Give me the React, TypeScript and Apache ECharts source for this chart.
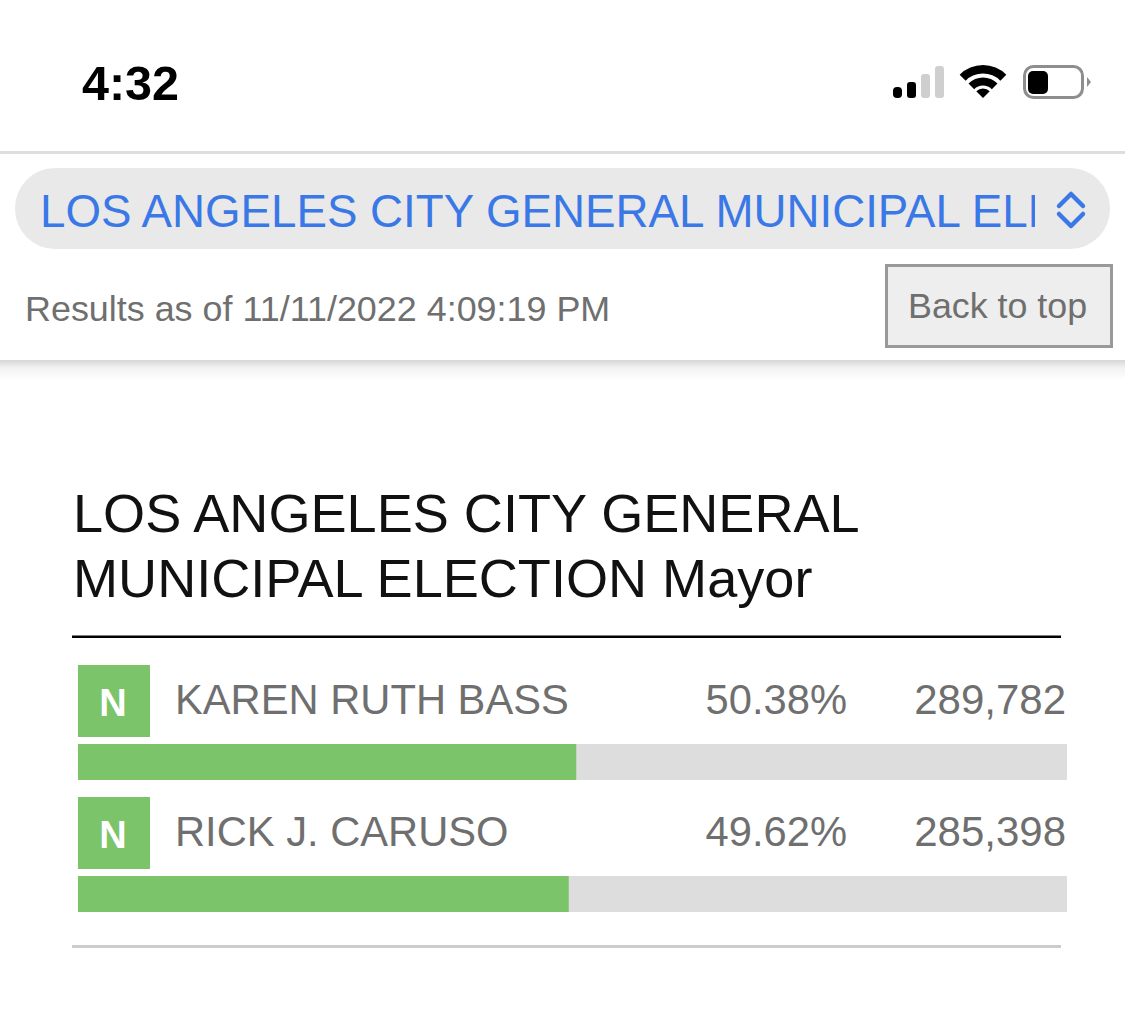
import React, { useEffect, useRef } from "react";
import * as echarts from "echarts";

const candidates = ["KAREN RUTH BASS", "RICK J. CARUSO"];
const shares = [50.38, 49.62];
const shareLabels = ["50.38%", "49.62%"];
const votes = ["289,782", "285,398"];
const partyTags = ["N", "N"];
const titleLines = ["LOS ANGELES CITY GENERAL", "MUNICIPAL ELECTION Mayor"];
const selectText = "LOS ANGELES CITY GENERAL MUNICIPAL ELE";
const resultsText = "Results as of 11/11/2022 4:09:19 PM";
const backText = "Back to top";
const clockText = "4:32";

const FONT = '"Liberation Sans", Arial, sans-serif';
const GREEN = "#7bc469";
const GREY = "#6f6f6f";
const BLUE = "#3b78e7";
const ROW_Y = [0, 132];

function txt(text: string, x: number, y: number, size: number, fill: string, align = "left", weight: any = "normal", family = FONT) {
  return {
    type: "text",
    x,
    y,
    silent: true,
    style: { text, fill, fontSize: size, fontFamily: family, fontWeight: weight, align, verticalAlign: "middle" },
  };
}
function box(x: number, y: number, w: number, h: number, fill: string, r: any = 0, extra: any = {}) {
  return { type: "rect", silent: true, shape: { x, y, width: w, height: h, r }, style: { fill, ...extra } };
}
function wifi(r: number, r0: number) {
  return {
    type: "sector",
    silent: true,
    shape: { cx: 983, cy: 98, r, r0, startAngle: (-3 * Math.PI) / 4, endAngle: -Math.PI / 4, clockwise: true },
    style: { fill: "#000" },
  };
}
function chevron(points: number[][]) {
  return {
    type: "polyline",
    silent: true,
    shape: { points },
    style: { stroke: BLUE, lineWidth: 4.5, fill: "none", lineCap: "round", lineJoin: "round" },
  };
}

const statusBar: any[] = [
  txt(clockText, 82, 83, 48.5, "#000", "left", "bold"),
  box(893, 87, 9, 11, "#000", 4),
  box(907, 82, 9, 16, "#000", 3),
  box(921, 74, 9, 24, "#cfcfcf", 3),
  box(935, 66, 9, 32, "#cfcfcf", 3),
  wifi(33, 24.5),
  wifi(20.5, 12.5),
  wifi(9.5, 0),
  {
    type: "rect",
    silent: true,
    shape: { x: 1024.5, y: 66.5, width: 58, height: 31, r: 9 },
    style: { fill: "#fff", stroke: "#8e8e8e", lineWidth: 3 },
  },
  box(1028, 71, 20, 23, "#000", 5),
  { type: "polygon", silent: true, shape: { points: [[1087, 77], [1091, 82], [1087, 87]] }, style: { fill: "#8e8e8e" } },
];

const header: any[] = [
  box(0, 151, 1125, 3, "#dedede"),
  box(15, 168, 1095, 81, "#e9e9e9", 40),
  txt(selectText, 40, 211, 45.7, BLUE),
  box(1035, 188, 57, 46, "#e9e9e9"),
  chevron([[1059, 206], [1071, 194], [1083, 206]]),
  chevron([[1059, 214], [1071, 226], [1083, 214]]),
  txt(resultsText, 25, 309, 35.9, GREY),
  {
    type: "rect",
    silent: true,
    shape: { x: 886.5, y: 265.5, width: 225, height: 81 },
    style: { fill: "#eeeeee", stroke: "#999999", lineWidth: 3 },
  },
  txt(backText, 908, 306, 35.8, GREY),
  {
    type: "rect",
    silent: true,
    shape: { x: 0, y: 360, width: 1125, height: 20 },
    style: {
      fill: new echarts.graphic.LinearGradient(0, 0, 0, 1, [
        { offset: 0, color: "rgba(0,0,0,0.16)" },
        { offset: 0.4, color: "rgba(0,0,0,0.05)" },
        { offset: 1, color: "rgba(0,0,0,0)" },
      ]),
    },
  },
];

const body: any[] = [
  txt(titleLines[0], 73, 513, 54.1, "#111"),
  txt(titleLines[1], 73, 578, 54.1, "#111"),
  box(72, 635.5, 989, 2.5, "#000"),
  box(72, 945, 989, 3, "#cccccc"),
];
candidates.forEach((name, i) => {
  const dy = ROW_Y[i];
  body.push(
    box(78, 665 + dy, 72, 72, GREEN),
    txt(partyTags[i], 113, 703 + dy, 38, "#ffffff", "center", "bold"),
    txt(name, 175, 699 + dy, 41.7, GREY),
    txt(shareLabels[i], 847, 699 + dy, 41.7, GREY, "right"),
    txt(votes[i], 1066, 699 + dy, 42, GREY, "right")
  );
});

export default function App() {
  const ref = useRef<HTMLDivElement>(null);
  useEffect(() => {
    const chart = echarts.init(ref.current!, undefined, { renderer: "svg" });
    chart.setOption({
      animation: false,
      backgroundColor: "#ffffff",
      grid: { left: 78, top: 696, width: 989, height: 264 },
      xAxis: { type: "value", min: 0, max: 100, show: false },
      yAxis: { type: "category", data: candidates, inverse: true, show: false },
      series: [
        {
          type: "bar",
          data: shares,
          barWidth: 36,
          itemStyle: { color: GREEN },
          showBackground: true,
          backgroundStyle: { color: "#dddddd" },
          silent: true,
        },
      ],
      graphic: { elements: [...statusBar, ...header, ...body] },
    });
    return () => chart.dispose();
  }, []);
  return <div ref={ref} style={{ position: "absolute", left: 0, top: 0, width: 1125, height: 1014 }} />;
}
